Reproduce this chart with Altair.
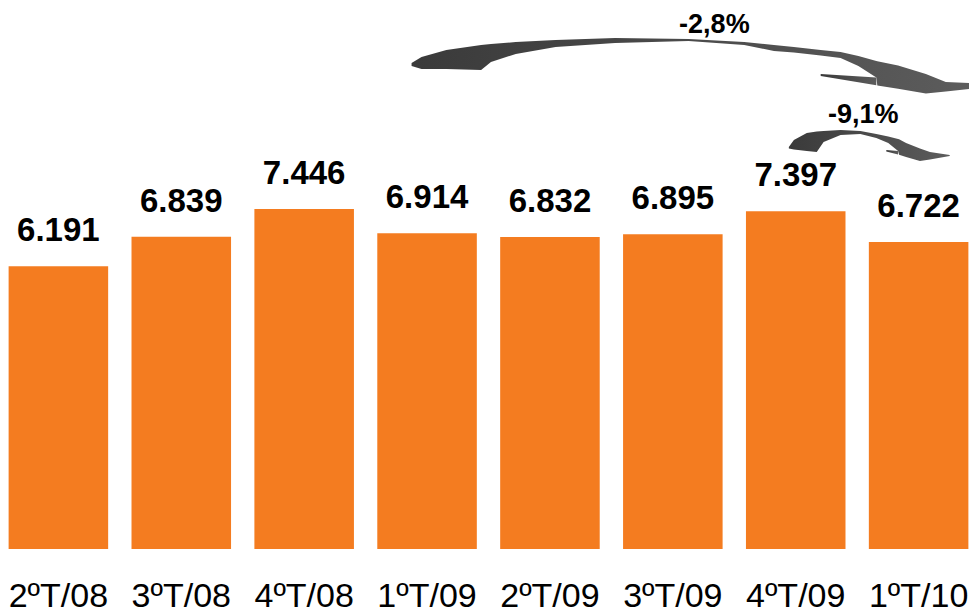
import altair as alt
import pandas as pd

# ---- data ----
quarters = ["2ºT/08", "3ºT/08", "4ºT/08", "1ºT/09", "2ºT/09", "3ºT/09", "4ºT/09", "1ºT/10"]
values = [6191, 6839, 7446, 6914, 6832, 6895, 7397, 6722]
value_labels = [f"{v:,}".replace(",", ".") for v in values]

# curved annotation arrows, in (bar index, value) units: outline top / bottom
big_body_x = [2.874, 2.955, 3.157, 3.440, 3.520, 3.722, 4.046, 4.530, 5.128, 5.581, 5.823, 5.985,
              6.203, 6.365, 6.510, 6.656, 6.664, 6.833, 7.059, 7.221, 7.415]
big_body_top = [10643, 10775, 10928, 11038, 11060, 11103, 11147, 11191, 11169, 11103, 11038, 10994,
                10928, 10884, 10797, 10687, 10683, 10589, 10403, 10227, 10205]
big_body_bot = [10578, 10512, 10512, 10490, 10665, 10841, 10994, 11081, 11125, 11038, 10906, 10874,
                10807, 10753, 10578, 10326, 10153, 10078, 9975, 10019, 10074]
big_barb_x = [6.203, 6.656]
big_barb_top = [10403, 10326]
big_barb_bot = [10359, 10157]

small_body_x = [5.944, 5.985, 6.090, 6.171, 6.227, 6.365, 6.526, 6.656, 6.753, 6.833, 6.841,
                6.898, 7.011, 7.092, 7.253]
small_body_top = [8804, 8957, 9110, 9143, 9154, 9176, 9154, 9089, 9034, 8979, 8972,
                  8891, 8771, 8694, 8629]
small_body_bot = [8771, 8749, 8716, 8694, 8913, 9067, 9089, 9001, 8891, 8716, 8633,
                  8587, 8497, 8530, 8607]
small_barb_x = [6.737, 6.833]
small_barb_top = [8738, 8716]
small_barb_bot = [8705, 8640]

arrow_texts = ["-2,8%", "-9,1%"]
arrow_text_x = [5.338, 6.550]
arrow_text_y = [11290, 9329]

# ---- tables ----
bars_df = pd.DataFrame({"q": quarters, "v": values, "lab": value_labels})

rows = []
for name, xs, ts, bs in [("big_body", big_body_x, big_body_top, big_body_bot),
                         ("big_barb", big_barb_x, big_barb_top, big_barb_bot),
                         ("small_body", small_body_x, small_body_top, small_body_bot),
                         ("small_barb", small_barb_x, small_barb_top, small_barb_bot)]:
    for x, t, b in zip(xs, ts, bs):
        rows.append({"part": name, "ix": x, "ytop": t, "ybot": b})
arrows_df = pd.DataFrame(rows)
atext_df = pd.DataFrame({"t": arrow_texts, "ix": arrow_text_x, "y": arrow_text_y})

FONT = "Liberation Sans"
yscale = alt.Scale(domain=[0, 11848], nice=False, zero=True)
band = alt.Scale(type="band", paddingInner=0.19, paddingOuter=0.005)
qscale = alt.Scale(domain=[-0.41, 7.41], nice=False, zero=False)

x_axis = alt.Axis(title=None, labelAngle=0, labelFont=FONT, labelFontSize=34,
                  labelColor="#000000", labelPadding=57, labelBaseline="alphabetic",
                  ticks=False, tickSize=0, domain=False, grid=False)

bars = alt.Chart(bars_df).mark_bar(color="#F47C20").encode(
    x=alt.X("q:N", sort=quarters, scale=band, axis=x_axis),
    y=alt.Y("v:Q", scale=yscale, axis=None),
)

bar_text = alt.Chart(bars_df).mark_text(
    font=FONT, fontSize=33, fontWeight="bold", color="#000000",
    baseline="alphabetic", dy=-25
).encode(
    x=alt.X("q:N", sort=quarters, scale=band, axis=None),
    y=alt.Y("v:Q", scale=yscale, axis=None),
    text="lab:N",
)

grad = alt.Gradient(
    gradient="linear",
    stops=[alt.GradientStop(color="#3a3a3a", offset=0),
           alt.GradientStop(color="#5c5c5c", offset=1)],
    x1=0, x2=1, y1=0, y2=0,
)

arrows = alt.Chart(arrows_df).mark_area(fill=grad, opacity=1, interpolate="linear").encode(
    x=alt.X("ix:Q", scale=qscale, axis=None),
    y=alt.Y("ytop:Q", scale=yscale, axis=None),
    y2="ybot:Q",
    detail="part:N",
)

arrow_text = alt.Chart(atext_df).mark_text(
    font=FONT, fontSize=27, fontWeight="bold", color="#000000", baseline="alphabetic"
).encode(
    x=alt.X("ix:Q", scale=qscale, axis=None),
    y=alt.Y("y:Q", scale=yscale, axis=None),
    text="t:N",
)

chart = alt.layer(bars, bar_text, arrows, arrow_text).resolve_scale(
    x="independent"
).properties(
    width=961, height=541,
    autosize=alt.AutoSizeParams(type="none"),
    padding={"left": 0, "top": 0, "right": 0, "bottom": 65},
    background="#ffffff",
).configure_view(stroke=None)

chart.save("out.html", embed_options={"renderer": "svg", "actions": False})
